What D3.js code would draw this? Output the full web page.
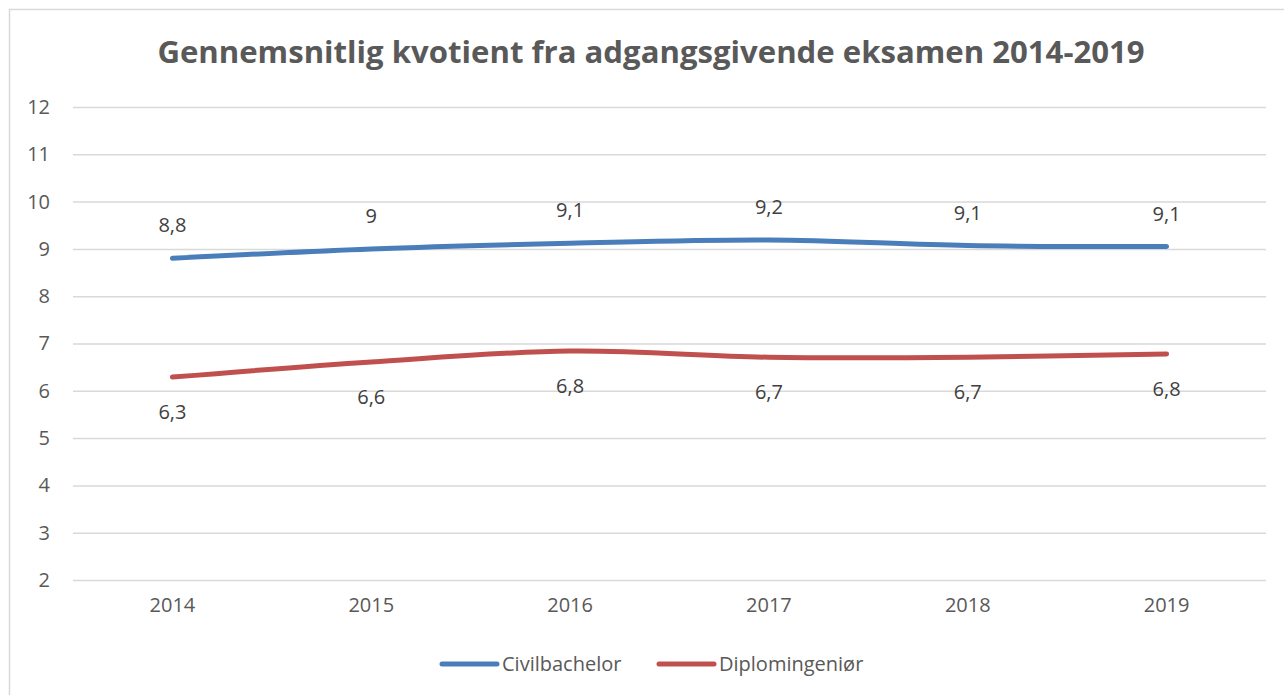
<!DOCTYPE html>
<html>
<head>
<meta charset="utf-8">
<script src="https://cdn.jsdelivr.net/npm/d3@7"></script>
<style>
  body { margin: 0; background: #fff; }
  svg { display: block; }
</style>
</head>
<body>
<script>
const width = 1284;
const height = 695;

const title = "Gennemsnitlig kvotient fra adgangsgivende eksamen 2014-2019";
const years = ["2014", "2015", "2016", "2017", "2018", "2019"];
const yTicks = [2, 3, 4, 5, 6, 7, 8, 9, 10, 11, 12];

const seriesNames = ["Civilbachelor", "Diplomingeniør"];
const civilbachelor = [8.8, 9.0, 9.12, 9.19, 9.07, 9.05];
const diplomingenior = [6.29, 6.61, 6.84, 6.71, 6.71, 6.78];
const civilLabels = ["8,8", "9", "9,1", "9,2", "9,1", "9,1"];
const diplomLabels = ["6,3", "6,6", "6,8", "6,7", "6,7", "6,8"];

const colors = ["#4a7ebb", "#c0504d"];
const textColor = "#595959";
const font = "'Open Sans', sans-serif";

const plot = { left: 73, right: 1266, top: 107, bottom: 580 };

const svg = d3
  .select("body")
  .append("svg")
  .attr("width", width)
  .attr("height", height);

// chart frame (right and bottom edges fall outside the picture)
svg
  .append("rect")
  .attr("x", 9.5)
  .attr("y", 9.5)
  .attr("width", 1300)
  .attr("height", 720)
  .attr("fill", "#fff")
  .attr("stroke", "#d9d9d9")
  .attr("stroke-width", 1.5);

// title, sized to the width it has in the reference
const titleText = svg
  .append("text")
  .attr("x", 651)
  .attr("y", 63)
  .attr("text-anchor", "middle")
  .attr("font-family", font)
  .attr("font-weight", "bold")
  .attr("font-size", 30)
  .attr("fill", textColor)
  .text(title);
const tw = titleText.node().getComputedTextLength();
titleText.attr("font-size", 30 * (988 / tw));

const xScale = d3
  .scaleBand()
  .domain(years)
  .range([plot.left, plot.right]);

const yScale = d3
  .scaleLinear()
  .domain([2, 12])
  .range([plot.bottom, plot.top]);

// gridlines + y labels
const yAxis = d3
  .axisLeft(yScale)
  .tickValues(yTicks)
  .tickSize(-(plot.right - plot.left))
  .tickPadding(23)
  .tickFormat(d3.format("d"));

svg
  .append("g")
  .attr("transform", "translate(" + plot.left + ",0)")
  .call(yAxis)
  .call((g) => g.select(".domain").remove())
  .call((g) =>
    g.selectAll(".tick line").attr("stroke", "#d9d9d9").attr("stroke-width", 1.5)
  )
  .call((g) =>
    g
      .selectAll(".tick text")
      .attr("fill", textColor)
      .attr("font-family", font)
      .attr("font-size", 20)
  );

// x labels
const xAxis = d3.axisBottom(xScale).tickSize(0).tickPadding(18);
svg
  .append("g")
  .attr("transform", "translate(0," + plot.bottom + ")")
  .call(xAxis)
  .call((g) => g.select(".domain").remove())
  .call((g) =>
    g
      .selectAll(".tick text")
      .attr("fill", textColor)
      .attr("font-family", font)
      .attr("font-size", 20)
  );

const series = [
  { name: seriesNames[0], values: civilbachelor, labels: civilLabels, color: colors[0], dy: -33 },
  { name: seriesNames[1], values: diplomingenior, labels: diplomLabels, color: colors[1], dy: 35 },
];

const line = d3
  .line()
  .x((d, i) => xScale(years[i]) + xScale.bandwidth() / 2)
  .y((d) => yScale(d))
  .curve(d3.curveCatmullRom.alpha(0.5));

series.forEach((s) => {
  svg
    .append("path")
    .datum(s.values)
    .attr("d", line)
    .attr("fill", "none")
    .attr("stroke", s.color)
    .attr("stroke-width", 5)
    .attr("stroke-linecap", "round")
    .attr("stroke-linejoin", "round");

  svg
    .append("g")
    .selectAll("text")
    .data(s.values)
    .enter()
    .append("text")
    .attr("x", (d, i) => xScale(years[i]) + xScale.bandwidth() / 2)
    .attr("y", (d) => yScale(d) + s.dy)
    .attr("dy", "0.35em")
    .attr("text-anchor", "middle")
    .attr("font-family", font)
    .attr("font-size", 20)
    .attr("fill", "#404040")
    .text((d, i) => s.labels[i]);
});

// legend
const legendX = [442, 659];
series.forEach((s, i) => {
  const g = svg.append("g").attr("transform", "translate(" + legendX[i] + ",664)");
  g.append("line")
    .attr("x1", 0)
    .attr("x2", 55)
    .attr("stroke", s.color)
    .attr("stroke-width", 5)
    .attr("stroke-linecap", "round");
  g.append("text")
    .attr("x", 60)
    .attr("dy", "0.35em")
    .attr("font-family", font)
    .attr("font-size", 20)
    .attr("fill", textColor)
    .text(s.name);
});
</script>
</body>
</html>
